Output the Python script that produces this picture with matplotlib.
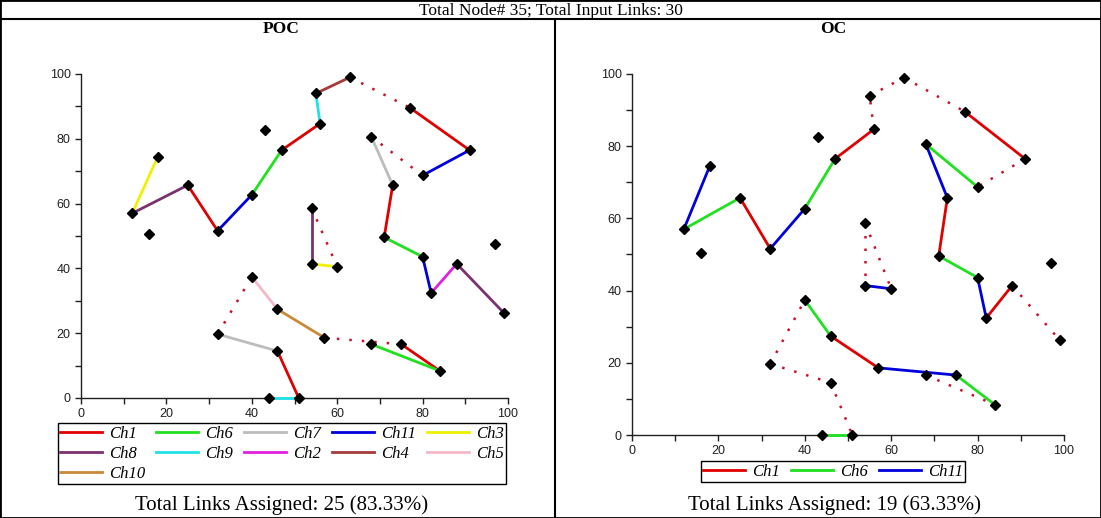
import matplotlib
matplotlib.use("Agg")
import matplotlib.pyplot as plt
from matplotlib.lines import Line2D
from matplotlib.ticker import MultipleLocator

# node positions (35 nodes)
node_x = [12, 18, 16, 25, 32, 40, 43, 47, 55, 56, 63, 77, 91, 80, 68, 73, 71, 80,
          82, 88, 97, 99, 54, 54, 60, 40, 46, 57, 32, 46, 68, 75, 84, 44, 51]
node_y = [57, 74.5, 50.5, 65.7, 51.6, 62.7, 82.6, 76.5, 94, 84.7, 99, 89.6, 76.5,
          68.7, 80.6, 65.7, 49.6, 43.6, 32.4, 41.4, 47.6, 26.3, 58.7, 41.4, 40.5,
          37.4, 27.4, 18.6, 19.7, 14.5, 16.6, 16.6, 8.4, 0, 0]

# 30 input links (node index pairs) and channel assigned by each method
link_a = [0, 0, 3, 4, 5, 7, 9, 8, 10, 11, 12, 13, 14, 15, 16, 17, 18, 19, 22, 23,
          22, 25, 28, 26, 27, 31, 30, 28, 29, 33]
link_b = [1, 3, 4, 5, 7, 9, 8, 10, 11, 12, 13, 14, 15, 16, 17, 18, 19, 21, 23, 24,
          24, 26, 25, 27, 31, 32, 32, 29, 34, 34]
poc_ch = ["Ch3", "Ch8", "Ch1", "Ch11", "Ch6", "Ch1", "Ch9", "Ch4", None, "Ch1",
          "Ch11", None, "Ch7", "Ch1", "Ch6", "Ch11", "Ch2", "Ch8", "Ch8", "Ch3",
          None, "Ch5", None, "Ch10", None, "Ch1", "Ch6", "Ch7", "Ch1", "Ch9"]
oc_ch = ["Ch11", "Ch6", "Ch1", "Ch11", "Ch6", "Ch1", None, None, None, "Ch1",
         None, "Ch6", "Ch11", "Ch1", "Ch6", "Ch11", "Ch1", None, None, "Ch11",
         None, "Ch6", None, "Ch1", "Ch11", "Ch6", None, None, None, "Ch6"]

poc_legend = ["Ch1", "Ch6", "Ch7", "Ch11", "Ch3", "Ch8", "Ch9", "Ch2", "Ch4", "Ch5", "Ch10"]
oc_legend = ["Ch1", "Ch6", "Ch11"]

colors = {"Ch1": "#e00000", "Ch6": "#20e020", "Ch7": "#bdbdbd", "Ch11": "#0000dd",
          "Ch3": "#f0f000", "Ch8": "#7b3070", "Ch9": "#20e0e8", "Ch2": "#e020e0",
          "Ch4": "#a63a3a", "Ch5": "#f4b8c8", "Ch10": "#c88a3a"}
dot_color = "#c8102e"

W, H = 1101, 518
fig = plt.figure(figsize=(W / 100, H / 100), dpi=100)


def draw(ax, chans):
    for a, b, c in zip(link_a, link_b, chans):
        xs = [node_x[a], node_x[b]]
        ys = [node_y[a], node_y[b]]
        if c is None:
            ax.plot(xs, ys, color=dot_color, lw=1.8, ls=(0, (1, 4)), clip_on=False, zorder=2)
        else:
            ax.plot(xs, ys, color=colors[c], lw=2, clip_on=False, zorder=3)
    ax.plot(node_x, node_y, "D", color="black", ms=5, clip_on=False, zorder=4)
    ax.set_xlim(0, 100)
    ax.set_ylim(0, 100)
    for s in ["top", "right"]:
        ax.spines[s].set_visible(False)
    for s in ["left", "bottom"]:
        ax.spines[s].set_color("#202020")
        ax.spines[s].set_linewidth(1)
    ax.xaxis.set_major_locator(MultipleLocator(20))
    ax.yaxis.set_major_locator(MultipleLocator(20))
    ax.xaxis.set_minor_locator(MultipleLocator(10))
    ax.yaxis.set_minor_locator(MultipleLocator(10))
    ax.tick_params(which="both", length=4, width=1, color="#202020", pad=3.5,
                   labelsize=9, labelcolor="#202020")
    for lab in ax.get_xticklabels() + ax.get_yticklabels():
        lab.set_fontfamily("Liberation Sans")


def legend(names, ncol, cx, top):
    # matplotlib fills columns first, reorder so rows read left to right
    nrow = -(-len(names) // ncol)
    order = []
    for c in range(ncol):
        for r in range(nrow):
            i = r * ncol + c
            if i < len(names):
                order.append(names[i])
    handles = [Line2D([], [], color=colors[n], lw=2) for n in order]
    leg = fig.legend(handles, order, loc="upper center", ncol=ncol,
                     bbox_to_anchor=(cx / W, 1 - top / H), bbox_transform=fig.transFigure,
                     borderaxespad=0, fancybox=False, framealpha=1, edgecolor="black",
                     handlelength=2.5, handletextpad=0.42, columnspacing=0.68,
                     borderpad=0.15, labelspacing=0.24,
                     prop={"family": "Liberation Serif", "style": "italic", "size": 12})
    leg.get_frame().set_linewidth(1)


ax1 = fig.add_axes([81 / W, 1 - 398 / H, 427 / W, 324 / H])
draw(ax1, poc_ch)
ax2 = fig.add_axes([632 / W, 1 - 435 / H, 432 / W, 361 / H])
draw(ax2, oc_ch)

legend(poc_legend, 5, 282, 423)
legend(oc_legend, 3, 833, 461)

serif = "Liberation Serif"
fig.text(0.5, 1 - 15 / H, "Total Node# 35; Total Input Links: 30", ha="center", va="baseline",
         family=serif, size=12.5)
fig.text(281 / W, 1 - 33 / H, "POC", ha="center", va="baseline", family=serif, size=12.5,
         weight="bold")
fig.text(833 / W, 1 - 33 / H, "OC", ha="center", va="baseline", family=serif, size=12.5,
         weight="bold")
fig.text(282 / W, 1 - 510 / H, "Total Links Assigned: 25 (83.33%)", ha="center",
         va="baseline", family=serif, size=15)
fig.text(835 / W, 1 - 510 / H, "Total Links Assigned: 19 (63.33%)", ha="center",
         va="baseline", family=serif, size=15)

# table borders
fig.add_artist(Line2D([0, 1, 1, 0, 0], [0, 0, 1, 1, 0], color="black", lw=2,
                      transform=fig.transFigure))
fig.add_artist(Line2D([0, 1], [1 - 19 / H, 1 - 19 / H], color="black", lw=1.5,
                      transform=fig.transFigure))
fig.add_artist(Line2D([555 / W, 555 / W], [0, 1 - 19 / H], color="black", lw=1.5,
                      transform=fig.transFigure))

fig.savefig("out.png", dpi=100)
